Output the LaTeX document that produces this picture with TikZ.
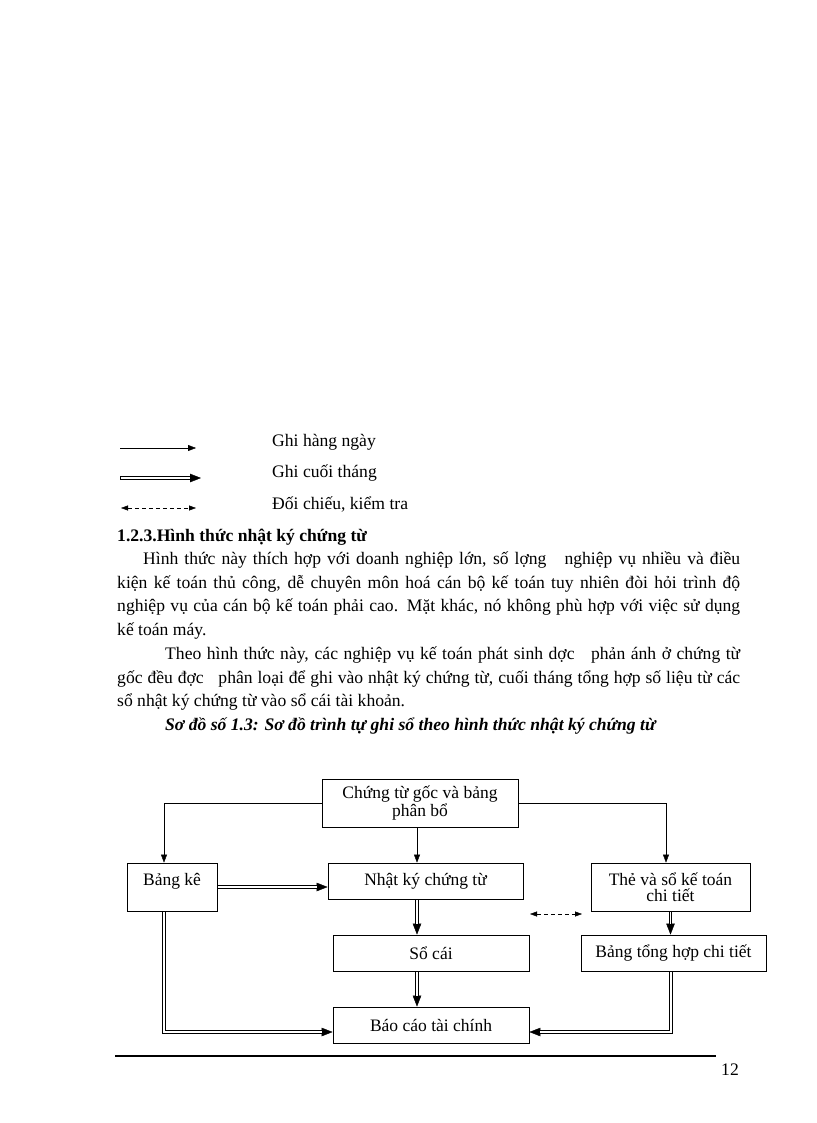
\documentclass[tikz,border=0pt]{standalone}
\usepackage{fontspec}
\setmainfont{Liberation Serif}
\usetikzlibrary{arrows.meta,calc}
\begin{document}
\begin{tikzpicture}[x=1pt,y=-1pt,
  txt/.style={anchor=base west, inner sep=0pt, font=\fontsize{17.6}{23.7}\selectfont},
  box/.style={draw, line width=0.8pt, inner sep=0pt, align=center, font=\fontsize{17.5}{16}\selectfont},
  single/.style={line width=0.7pt, -{Triangle[length=8pt,width=6pt,line width=0.4pt]}},
  dbl/.style={draw=none,
    postaction={draw, black, line width=3.3pt, miter limit=10, -{Triangle[length=11pt,width=8.5pt,line width=0.4pt]}},
    postaction={draw, white, line width=1.4pt, miter limit=10, shorten >=11pt, shorten <=0.6pt}},
  dsh/.style={line width=0.7pt, dash pattern=on 4pt off 3pt, {Triangle[length=7pt,width=5pt,line width=0.4pt]}-{Triangle[length=7pt,width=5pt,line width=0.4pt]}}
]
\path[use as bounding box] (0,0) rectangle (816,1123);

% legend
\coordinate (la1) at (120,448); \coordinate (lb1) at (196,448);
\coordinate (la2) at (120,478); \coordinate (lb2) at (201,478);
\coordinate (la3) at (121,508); \coordinate (lb3) at (196,508);
\draw[single] (la1) -- (lb1);
\path[dbl] (la2) -- (lb2);
\draw[dsh] (la3) -- (lb3);
\node[txt] (lt1) at (272,446) {Ghi hàng ngày};
\node[txt] (lt2) at (272,477) {Ghi cuối tháng};
\node[txt] (lt3) at (272,509) {Đối chiếu, kiểm tra};

% text
\node[txt, font=\fontsize{17.6}{23.7}\selectfont\bfseries] (h) at (117,541) {1.2.3.Hình thức nhật ký chứng từ};
\node[txt] (p1) at (143,564) {\hbox to 597pt{Hình thức này thích hợp với doanh nghiệp lớn, số lợng\ \ \ nghiệp vụ nhiều và điều}};
\node[txt] (p2) at (117,588) {\hbox to 623pt{kiện kế toán thủ công, dễ chuyên môn hoá cán bộ kế toán tuy nhiên đòi hỏi trình độ}};
\node[txt] (p3) at (117,611) {\hbox to 623pt{nghiệp vụ của cán bộ kế toán phải cao. Mặt khác, nó không phù hợp với việc sử dụng}};
\node[txt] (p4) at (117,635) {kế toán máy.};
\node[txt] (q1) at (165,659) {\hbox to 575pt{Theo hình thức này, các nghiệp vụ kế toán phát sinh dợc\ \ \ phản ánh ở chứng từ}};
\node[txt] (q2) at (117,683) {\hbox to 623pt{gốc đều đợc\ \ \ phân loại để ghi vào nhật ký chứng từ, cuối tháng tổng hợp số liệu từ các}};
\node[txt] (q3) at (117,706) {sổ nhật ký chứng từ vào sổ cái tài khoản.};
\node[txt, font=\fontsize{17.6}{23.7}\selectfont\bfseries\itshape] (cap) at (165,730) {Sơ đồ số 1.3: Sơ đồ trình tự ghi sổ theo hình thức nhật ký chứng từ};

% diagram
\node[box, minimum width=196pt, minimum height=48pt] (top) at (420,803) {Chứng từ gốc và bảng\\phân bổ};
\node[box, minimum width=90pt, minimum height=48pt] (bk) at (172,887) {Bảng kê\\\mbox{}};
\node[box, minimum width=195pt, minimum height=36pt] (nk) at (425.5,881) {Nhật ký chứng từ};
\node[box, minimum width=159pt, minimum height=48pt] (the) at (670.5,887) {Thẻ và sổ kế toán\\chi tiết};
\node[box, minimum width=196pt, minimum height=36pt] (sc) at (431,953) {Sổ cái};
\node[box, minimum width=185pt, minimum height=36pt] (bth) at (673.5,953) {Bảng tổng hợp chi tiết};
\node[box, minimum width=196pt, minimum height=36pt] (bc) at (431,1025) {Báo cáo tài chính};

\draw[single] (top.west) -| ([xshift=-8pt]bk.north);
\draw[single] ([xshift=-3pt]top.south) -- ([xshift=-3pt]top.south |- nk.north);
\draw[single] (top.east) -| ([xshift=-4.5pt]the.north);
\path[dbl] (bk.east) -- (bk.east -| nk.west);
\path[dbl] ([xshift=-8.5pt]nk.south) -- ([xshift=-8.5pt]nk.south |- sc.north);
\path[dbl] ([xshift=-14pt]sc.south) -- ([xshift=-14pt]sc.south |- bc.north);
\path[dbl] (the.south) -- (the.south |- bth.north);
\path[dbl] ([xshift=-8pt]bk.south) |- ([yshift=-7pt]bc.west);
\path[dbl] ([xshift=-2.5pt]bth.south) |- ([yshift=-7pt]bc.east);
\coordinate (d1) at (530,914); \coordinate (d2) at (582,914);
\draw[dsh] (d1) -- (d2);

% footer
\coordinate (f1) at (115,1056); \coordinate (f2) at (716,1056);
\draw[line width=1.6pt] (f1) -- (f2);
\node[txt] (pg) at (721,1075) {12};
\end{tikzpicture}
\end{document}
